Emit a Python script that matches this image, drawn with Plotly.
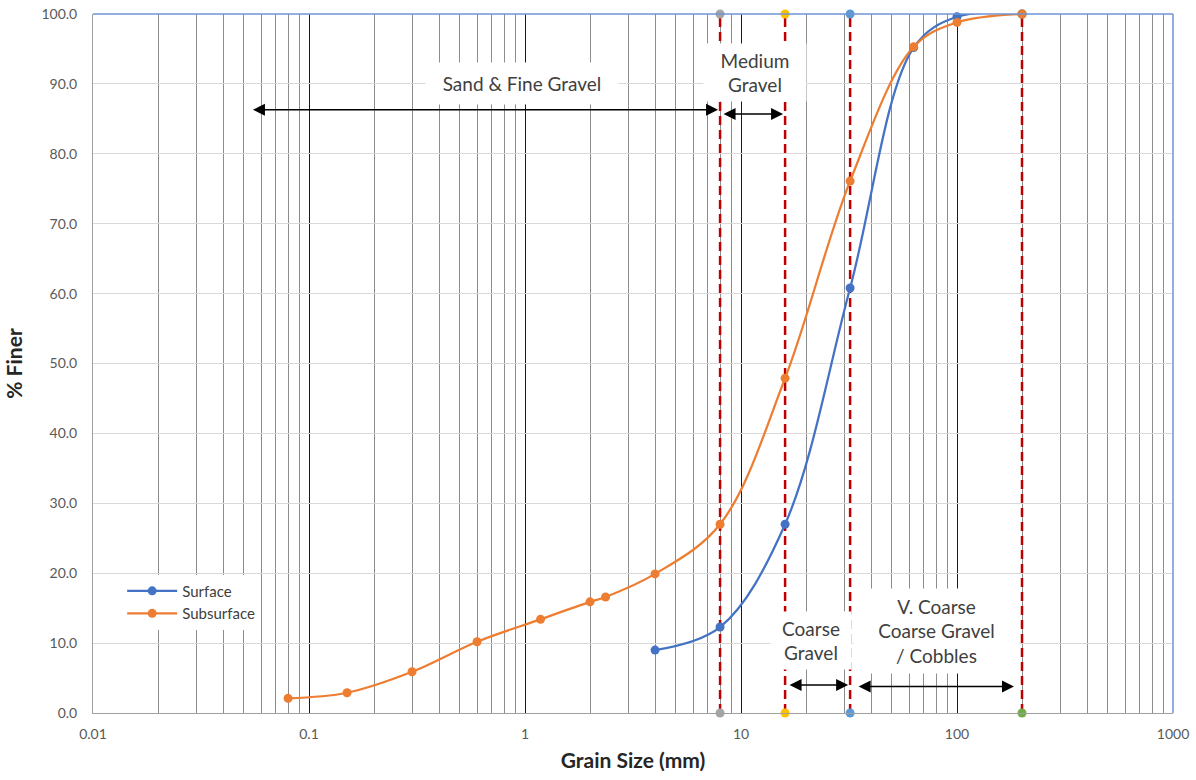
import math
import plotly.graph_objects as go

# ---- data ----
surface_size = [4, 8, 16, 32, 63, 100, 200]
surface_finer = [9.0, 12.3, 27.0, 60.8, 95.2, 99.6, 100.0]

subsurface_size = [0.08, 0.15, 0.3, 0.6, 1.18, 2.0, 2.36, 4, 8, 16, 32, 63, 100, 200]
subsurface_finer = [2.1, 2.9, 5.9, 10.2, 13.4, 15.9, 16.6, 19.9, 27.0, 47.9, 76.1, 95.3, 98.8, 100.0]

boundaries = [8, 16, 32, 200]
boundary_marker_colors = ["#A5A5A5", "#FFC000", "#5B9BD5", "#70AD47"]
boundary_y = [0, 100]

# class ranges for double-headed arrows: (start, end, y-level)
class_arrows = [
    (0.053, 8, 86.3),
    (8, 16, 85.7),
    (16, 32, 4.0),
    (32, 200, 3.8),
]

# labels for the size classes
class_labels = [
    "Sand & Fine Gravel",
    "Medium<br>Gravel",
    "Coarse<br>Gravel",
    "V. Coarse<br>Coarse Gravel<br>/ Cobbles",
]

x_tick_vals = [0.01, 0.1, 1, 10, 100, 1000]
x_tick_text = ["0.01", "0.1", "1", "10", "100", "1000"]
minor_vals = [m * 10 ** e for e in range(-2, 3) for m in range(2, 10)]

FONT = "Lato"
BLUE = "#4472C4"
ORANGE = "#ED7D31"
RED = "#C00000"

fig = go.Figure()

# boundary dashed lines
for b, c in zip(boundaries, boundary_marker_colors):
    fig.add_trace(go.Scatter(
        x=[b, b], y=boundary_y, mode="lines+markers",
        line=dict(color=RED, width=2.5, dash="9px,5px"),
        marker=dict(color=c, size=9),
        showlegend=False, hoverinfo="skip", cliponaxis=False,
    ))

fig.add_trace(go.Scatter(
    x=surface_size, y=surface_finer, name="Surface", mode="lines+markers",
    line=dict(color=BLUE, width=2.25, shape="spline", smoothing=1.0),
    marker=dict(color=BLUE, size=9), cliponaxis=False,
))
fig.add_trace(go.Scatter(
    x=subsurface_size, y=subsurface_finer, name="Subsurface", mode="lines+markers",
    line=dict(color=ORANGE, width=2.25, shape="spline", smoothing=1.0),
    marker=dict(color=ORANGE, size=9), cliponaxis=False,
))

annotations = []
# arrows
standoffs = [(2, 2), (2, 2), (3, 2), (7, 8)]
for (a, b, yv), (s0, s1) in zip(class_arrows, standoffs):
    annotations.append(dict(
        x=math.log10(b), y=yv, ax=math.log10(a), ay=yv,
        xref="x", yref="y", axref="x", ayref="y",
        text="", showarrow=True, arrowside="end+start",
        arrowhead=2, arrowsize=1.6, arrowwidth=1.5, arrowcolor="#000000",
        standoff=s1, startstandoff=s0,
    ))

# text boxes (paper positions of the chart's text boxes)
box_specs = [
    (0.397, 0.900, 190, 39),
    (0.613, 0.917, 100, 55),
    (0.665, 0.104, 78, 55),
    (0.781, 0.117, 163, 82),
]
for label, (xp, yp, w, h) in zip(class_labels, box_specs):
    annotations.append(dict(
        x=xp, y=yp, xref="paper", yref="paper", text=label, showarrow=False,
        bgcolor="white", width=w, height=h, align="center", valign="middle",
        font=dict(family=FONT, size=19, color="#404040"),
        xanchor="center", yanchor="middle",
    ))

fig.update_layout(
    width=1196, height=780,
    margin=dict(l=93, r=23, t=14, b=67, autoexpand=False),
    paper_bgcolor="white", plot_bgcolor="white",
    font=dict(family=FONT, color="#595959"),
    annotations=annotations,
    legend=dict(
        x=0.027, y=0.198, xanchor="left", yanchor="top",
        bgcolor="white", font=dict(family=FONT, size=15, color="#404040"),
        itemwidth=50, tracegroupgap=0,
    ),
    shapes=[
        dict(type="line", xref="paper", yref="paper", x0=0, x1=1, y0=1, y1=1,
             line=dict(color="#6F93D6", width=1.5)),
        dict(type="line", xref="paper", yref="paper", x0=1, x1=1, y0=0, y1=1,
             line=dict(color="#6F93D6", width=1.5)),
    ],
)

fig.update_xaxes(
    type="log", range=[-2, 3], automargin=False,
    tickmode="array", tickvals=x_tick_vals, ticktext=x_tick_text,
    showgrid=True, gridcolor="#1A1A1A", gridwidth=1,
    minor=dict(tickmode="array", tickvals=minor_vals, showgrid=True,
               gridcolor="#8C8C8C", gridwidth=1, ticks=""),
    ticks="outside", ticklen=8, tickcolor="rgba(0,0,0,0)",
    tickfont=dict(family=FONT, size=14, color="#595959"),
    showline=True, linecolor="#A0A0A0", zeroline=False,
    title=dict(text="<b>Grain Size (mm)</b>", standoff=12,
               font=dict(family=FONT, size=21, color="#262626")),
)
fig.update_yaxes(
    range=[0, 100], dtick=10, tickformat=".1f", automargin=False,
    showgrid=True, gridcolor="#D9D9D9", gridwidth=1,
    ticks="outside", ticklen=12, tickcolor="rgba(0,0,0,0)",
    tickfont=dict(family=FONT, size=14, color="#595959"),
    showline=True, linecolor="#A0A0A0", zeroline=False,
    title=dict(text="<b>% Finer</b>", standoff=13,
               font=dict(family=FONT, size=21, color="#262626")),
)

fig.write_html("out.html")
